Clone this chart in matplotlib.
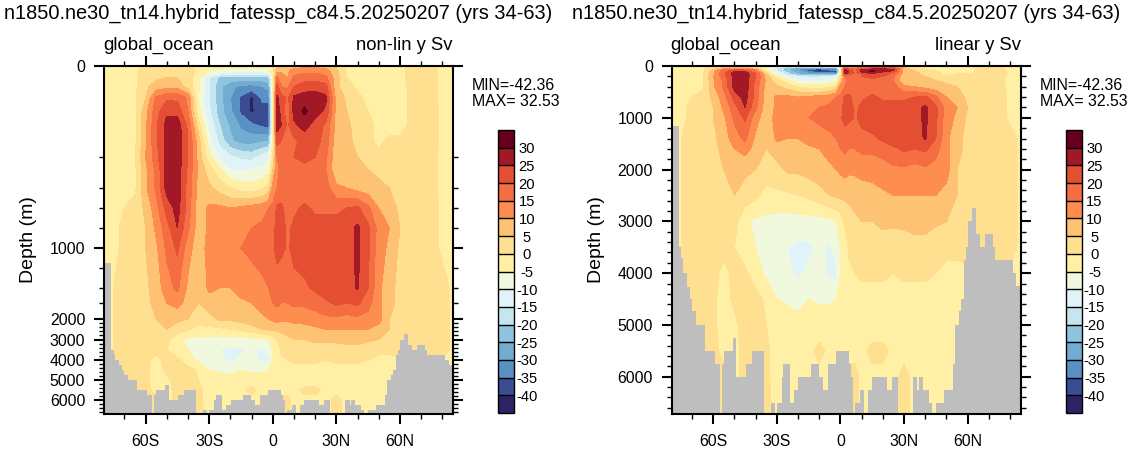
import numpy as np
import matplotlib
matplotlib.use("Agg")
import matplotlib.pyplot as plt
from matplotlib.colors import ListedColormap, BoundaryNorm
from matplotlib.ticker import FixedLocator, NullFormatter

plt.rcParams['font.family'] = ['Liberation Sans', 'DejaVu Sans']
plt.rcParams['axes.unicode_minus'] = False

title = "n1850.ne30_tn14.hybrid_fatessp_c84.5.20250207 (yrs 34-63)"
lats = [-80,-75,-70,-65,-60,-55,-50,-45,-40,-35,
        -30,-25,-20,-15,-10,-5,-2,0,
        2,4,7,10,15,20,25,30,35,40,
        45,50,55,60,65,70,75,80,85]
depths = [0,10,25,45,70,100,130,165,200,280,400,600,800,1000,1400,1600,2000,
          2500,3000,3500,4000,4500,5000,5500,6000,6720]
moc = [
 [-2,-2,-2,-1,1,2,2,2,1,-1, -2,-3,-3,-3,-3,-3,-3,0, 4,6,7,8,8,8,8,4,-1,-2, -2,-2,-2,-1,1,1,1,-1,-1],
 [-2,-2,-2,-1,2,3,3,3,2,-1, -4,-6,-7,-7,-7,-7,-6,-1, 8,9,9,12,13,13,12,6,0,-1, -2,-2,-2,-1,1,1,1,-1,-1],
 [-2,-2,-2,-1,3,4,5,5,3,-4, -15,-21,-21,-22,-22,-22,-21,-5, 16,12,10,16,18,18,16,7,0,-1, -2,-2,-2,-1,1,1,1,-1,-1],
 [-2,-2,-2,-1,4,7,8,8,3,-4, -15,-24,-29,-31,-32,-30,-28,-5, 22,15,14,20,22,23,22,6,2,-1, -1,-2,-2,-2,1,1,1,-1,-1],
 [-2,-2,-2,-1,5,16,19,19,14,-5, -15,-23,-30,-36,-41,-34,-34,-5, 26,22,19,26,28,28,26,8,4,1, -1,-2,-2,-2,1,1,1,-1,-1],
 [-2,-2,-2,-1,8,18,24,23,15,-3, -14,-23,-29,-36,-41,-37,-37,-6, 27,24,16,27,31,27,24,8,5,3, 0,-2,-2,-2,1,1,2,-1,-1],
 [-2,-2,-2,-1,9,19,27,28,19,2, -11,-20,-26,-31,-34,-36,-37,-6, 27,25,19,24,27,23,19,8,6,3, 1,-1,-2,-2,1,1,2,-1,-1],
 [-2,-2,-2,-1,9,19,27,28,20,7, -8,-17,-24,-27,-27,-26,-25,-5, 22,20,18,19,22,22,18,7,6,4, 1,-1,1,1,1,1,2,-1,-1],
 [-2,-2,-2,-1,10,18,27,28,20,8, -3,-11,-14,-16,-17,-13,-11,1, 15,16,17,20,21,20,16,6,6,5, 3,1,1,1,2,2,1,-1,-1],
 [-2,-2,-2,-1,9,16,27,28,19,9, 2,-4,-10,-11,-10,-9,-7,5, 14,16,17,18,19,18,15,6,7,7, 5,3,1,2,3,2,1,-1,-1],
 [-2,-2,-1,-1,9,16,27,28,18,8, 6,3,0,-2,-3,-1,2,12, 15,17,17,17,17,17,17,11,10,8, 7,7,5,4,5,3,1,-1,-1],
 [-2,-1,0,2,6,13,22,27,18,7, 11,11,10,11,12,13,15,16, 21,21,18,19,21,19,19,19,20,21, 16,10,7,4,5,3,2,-1,-1],
 [-1,-1,1,2,5,11,18,25,16,7, 11,12,12,14,15,16,17,18, 22,22,19,21,22,22,22,22,23,26, 21,13,10,5,4,3,2,-1,-1],
 [-1,-1,1,3,5,9,16,21,12,7, 12,13,14,15,16,17,18,19, 22,21,19.5,21,23,23,23,23,23,26, 21,12,9,4,4,3,2,-1,-1],
 [0,0,1,2,4,7,13,16,9,6, 11,10,10,12,13,14,15,16, 17,17,18,19,19,21,23,23,23,25.5, 20,11,7,3,3,2,2,2,-1],
 [0,0,1,2,3,7,10,12,8,5, 8,7,7,9,10,12,13,15, 16,15,15,16,16,17,19,21,20,21, 17,11,7,3,3,2,2,2,-1],
 [0,0,1,2,2,5,9,6,5,3, 3,6,6,7,8,9,10,11, 12,11,11,12,12,13,14,14,13,14, 13,12,5,3,2,2,2,2,-1],
 [0,0,1,2,2,3,5,3,1,-2, -1,-1,0,1,3,5,6,6, 6,6,7,7,8,9,10,10,10,10, 10,8,5,3,2,2,2,2,-1],
 [0,0,1,2,2,3,2,-4,-6,-6, -7,-7,-7,-7,-7,-6,-5,-3, 1,3,4,5,5,6,6,6,7,7, 6,5,3,2,2,2,2,2,-1],
 [0,0,2,2,1,1,0,-3,-5,-6, -9,-10,-11,-11,-9,-11,-8,-5, -4,1,1,2,3,3,2,3,3,3, 1,1,1,2,2,2,2,2,-1],
 [0,0,2,2,1,-1,1,1,-3,-6, -10,-9,-11,-9,-8,-11,-11,-5, -4,-1,0,1,1,1,0,1,1,1, 0,-1,-1,-1,-1,-1,-1,-1,-1],
 [0,0,1,1,1,-2,1,2,2,-1, -5,-6,-7,-5,-6,-6,-5,-3, -2,-2,-2,-2,-2,-2,-2,-2,-2,-2, -2,-2,-2,-1,-1,-1,-1,-1,-1],
 [0,0,0,0,1,-2,-1,2,2,0, -3,-2,-3,-2,-2,-1,-2,-2, -2,-2,-2,-2,-2,-2,-2,-2,-2,-2, -2,-2,-2,-1,-1,-1,-1,-1,-1],
 [0,0,0,0,1,-1,-1,1,2,1, -2,-2,-2,-1,1,-1,-2,-1, -1,-1,-1,-1,1,1,-1,-1,-2,-1, -1,-1,-1,-1,-1,-1,-1,-1,-1],
 [0,0,0,0,1,1,-1,1,1,1, -2,-1,-1,-1,-1,-1,-1,-1, -1,1,1,-1,-1,-1,-1,1,-1,-1, -1,-1,-1,-1,-1,-1,-1,-1,-1],
 [0,0,0,0,1,1,-1,1,1,1, -1,-1,-1,-1,-1,-1,-1,-1, -1,1,1,-1,-1,-1,-1,1,-1,-1, -1,-1,-1,-1,-1,-1,-1,-1,-1],
]
levels = [-40,-35,-30,-25,-20,-15,-10,-5,0,5,10,15,20,25,30]
colors = ['#2d2364','#3a4c92','#5a90c3','#72acd1','#90c4de','#c5e5ef','#e0f3f8','#f0f8dd',
          '#fff0a6','#fee090','#fdc274','#fd8e50','#f56d43','#e44f34','#a11826','#67001f']
floor_edges = [-85,-79,-76.3,-75,-74.2,-72.6,-71.1,-70,-68.2,-64,-59.3,-56.9,-56,-55,-50.6,-49.1,-44.7,
               -41.8,-36,-33,-31,-30,-27.8,-27,-23.9,-21.9,-19.8,-14,-10.2,-8.2,-6,-2.2,3.9,5,6,6.9,9.1,
               11,12.9,14.9,22,24.1,27,34,36.2,37.1,39,41.8,43.1,45,48.9,53.1,53.9,55.8,56.8,58.2,59.1,
               60.2,61.8,63.8,65.7,68.1,72,72.8,81.4,83,90]
floor_depth = [0,1150,3500,3700,4000,4260,4500,4740,5000,5500,5750,6720,5750,5500,5250,6000,5750,
               5500,6720,6500,6720,6500,6000,5750,6500,6250,6000,5750,6000,6250,5750,5500,5750,6000,6720,6500,6250,
               6720,6250,6000,6250,6000,6720,6000,6250,6000,6250,6500,6720,6500,6250,5750,5000,4740,4500,3740,3500,
               3000,2740,3250,3500,3250,3500,3740,4000,4250]
xticks_major = [-60,-30,0,30,60]
xticklabels = ['60S','30S','0','30N','60N']
W, H = 1134, 454
nonlin_d = [0,200,400,600,800,1000,1200,1400,1600,2000,3000,4000,5000,6000,6720]
nonlin_px = [66,157,188,208,228,248,268,288,303,319,339.5,360,380,400,414]

cmap = ListedColormap(colors[1:-1])
cmap.set_under(colors[0]); cmap.set_over(colors[-1])
norm = BoundaryNorm(levels, cmap.N)

fig = plt.figure(figsize=(W/100, H/100), dpi=100)

def rect(x0, y0, x1, y1):
    return [x0/W, 1-y1/H, (x1-x0)/W, (y1-y0)/H]

def panel(x0, subtitle, nonlin, title_x):
    ax = fig.add_axes(rect(x0, 66, x0+349, 414))
    if nonlin:
        ax.set_yscale('function', functions=(lambda d: np.interp(d, nonlin_d, nonlin_px),
                                             lambda p: np.interp(p, nonlin_px, nonlin_d)))
    cf = ax.contourf(lats, depths, np.array(moc, float), levels=levels, cmap=cmap, norm=norm, extend='both')
    ax.stairs(floor_depth, floor_edges, baseline=6720, fill=True, color='#bebebe', lw=0, zorder=3)
    ax.set_xlim(-79.6, 85)
    ax.set_ylim(6720, 0)
    ax.set_xticks(xticks_major); ax.set_xticklabels(xticklabels)
    ax.xaxis.set_minor_locator(FixedLocator(list(range(-70, 85, 10))))
    major = [0,1000,2000,3000,4000,5000,6000]
    ax.set_yticks(major)
    ax.set_yticklabels([str(m) for m in major])
    if nonlin:
        minor = [200,400,600,800,1200,1400,1600] + [d for d in range(2200, 6720, 200) if d % 1000]
    else:
        minor = [d for d in range(200, 6720, 200) if d % 1000]
    ax.yaxis.set_minor_locator(FixedLocator(minor))
    ax.yaxis.set_minor_formatter(NullFormatter())
    ax.tick_params(which='major', length=7.5, width=1.5, direction='out', top=True, right=True, labelsize=11.4)
    ax.tick_params(axis='x', which='major', pad=7)
    ax.tick_params(axis='y', which='major', pad=6)
    ax.tick_params(which='minor', length=3.8, width=1.0, direction='out', top=True, right=True)
    for s in ax.spines.values():
        s.set_linewidth(1.5); s.set_zorder(5)
    ax.set_ylabel('Depth (m)', fontsize=14, labelpad=9)
    fig.text(title_x/W, 1-13/H, title, fontsize=14.4, ha='center', va='center')
    fig.text((x0-1)/W, 1-45/H, 'global_ocean', fontsize=13.4, ha='left', va='center')
    fig.text((x0+349)/W, 1-45/H, subtitle, fontsize=13.2, ha='right', va='center')
    fig.text((x0+368)/W, 1-85/H, 'MIN=-42.36', fontsize=11.4, ha='left', va='center')
    fig.text((x0+368)/W, 1-102/H, 'MAX= 32.53', fontsize=11.4, ha='left', va='center')
    cax = fig.add_axes(rect(x0+394.3, 130, x0+410.3, 413))
    cb = fig.colorbar(cf, cax=cax, drawedges=True, extendrect=True, extendfrac='auto', ticks=levels)
    cb.outline.set_linewidth(1.0)
    cb.dividers.set_linewidth(1.0)
    cb.ax.tick_params(length=0, labelsize=10.6, pad=9)
    cb.ax.minorticks_off()
    for lab in cb.ax.get_yticklabels():
        lab.set_ha('center')
    return ax

panel(104, 'non-lin y Sv', True, 278)
panel(671.7, 'linear y Sv', False, 846)
fig.savefig('out.png', dpi=100)
